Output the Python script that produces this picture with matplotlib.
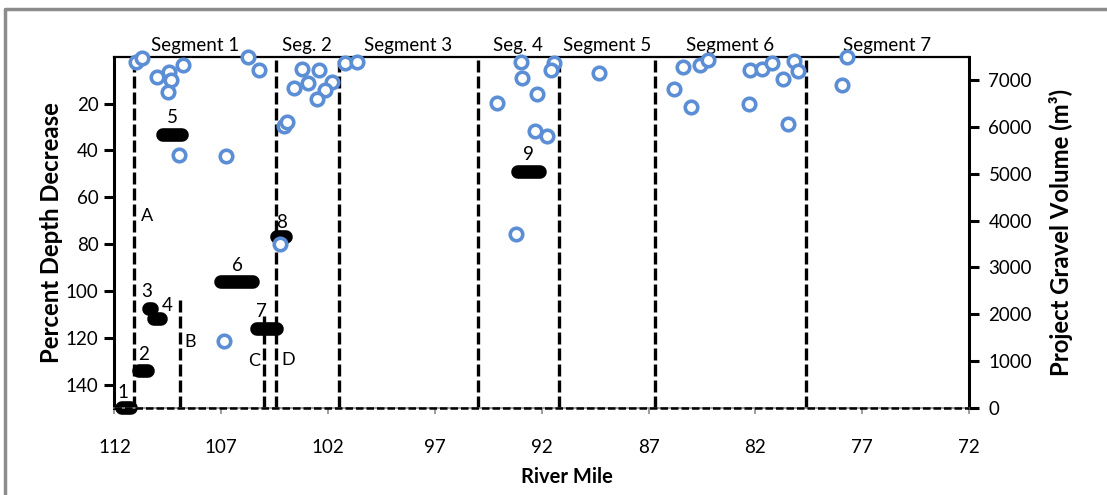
import matplotlib
matplotlib.use('Agg')
import matplotlib.pyplot as plt
from matplotlib.lines import Line2D

plt.rcParams['font.family'] = ['Lato', 'DejaVu Sans']

# percent depth decrease at sampled sites (left axis)
site_mile = [111.0, 110.69, 109.99, 109.45, 109.34, 109.50, 108.79, 105.76, 105.24,
             108.98, 106.80, 106.85, 104.26, 104.05, 103.93,
             103.21, 102.44, 103.61, 102.93, 101.81, 102.13, 102.51,
             101.19, 100.64,
             92.97, 92.93, 91.42, 91.56, 92.23, 94.10, 92.31, 91.77, 93.20,
             89.31,
             85.38, 84.60, 84.21, 85.80, 85.02, 82.27, 81.67, 81.22, 80.71,
             80.20, 79.99, 82.30, 80.48,
             77.73, 77.92]
site_depth = [2.3, 0.5, 8.6, 6.5, 10.1, 15.0, 3.7, 0.3, 5.8,
              41.8, 42.3, 121.6, 80.1, 29.5, 27.8,
              5.1, 5.8, 13.3, 11.2, 10.8, 14.4, 17.9,
              2.6, 2.3,
              2.3, 9.1, 2.7, 5.5, 16.1, 19.6, 31.8, 33.8, 75.8,
              6.9,
              4.4, 3.4, 1.6, 13.6, 21.4, 5.5, 5.1, 2.6, 9.4,
              1.8, 6.3, 20.0, 28.8,
              0.2, 12.2]

# gravel projects (right axis)
proj_id = ['1', '2', '3', '4', '5', '6', '7', '8', '9']
proj_start = [111.63, 110.83, 110.40, 110.13, 109.71, 107.00, 105.32, 104.38, 93.12]
proj_end = [111.22, 110.43, 110.26, 109.82, 108.84, 105.52, 104.40, 103.97, 92.10]
proj_volume = [10, 780, 2115, 1900, 5830, 2700, 1690, 3650, 5040]

# segment boundaries and names
seg_bounds = [112, 104.45, 101.5, 95.0, 91.2, 86.7, 79.65, 72]
seg_names = ['Segment 1', 'Seg. 2', 'Segment 3', 'Seg. 4', 'Segment 5', 'Segment 6', 'Segment 7']

# extra reference lines
ref_names = ['A', 'B', 'C']
ref_mile = [111.1, 108.95, 104.98]
ref_top = [7500, 2350, 1970]

blue = '#5B8ED5'

fig = plt.figure(figsize=(11.07, 4.95), dpi=100)
ax = fig.add_axes([0.1034, 0.1758, 0.7719, 0.7097])
ax2 = ax.twinx()
ax.set_zorder(ax2.get_zorder() + 1)
ax.patch.set_visible(False)

ax.set_xlim(112, 72)
ax.set_ylim(150, 0)
ax2.set_ylim(0, 7500)
ax.set_xticks(range(112, 71, -5))
ax.set_yticks(range(20, 141, 20))
ax2.set_yticks(range(0, 7001, 1000))

# segment boundary lines
for b in seg_bounds[1:-1]:
    ax2.plot([b, b], [0, 7500], color='black', lw=2.4, dashes=(3.6, 1.2), zorder=2)
for name, m, top in zip(ref_names, ref_mile, ref_top):
    ax2.plot([m, m], [0, top], color='black', lw=2.4, dashes=(3.6, 1.2), zorder=2)

ax2.text(110.75, 4100, 'A', fontsize=13, va='center', ha='left')
ax2.text(108.75, 1410, 'B', fontsize=13, va='center', ha='left')
ax2.text(105.2, 1000, 'C', fontsize=13, va='center', ha='right')
ax2.text(104.2, 1020, 'D', fontsize=13, va='center', ha='left')

# bottom dashed line (on top of the grey spine)
ax.plot([112, 72], [150, 150], color='black', lw=1.8, dashes=(3, 1.2), zorder=3, clip_on=False)

# projects
label_off = [(-4, 15), (0, 17), (-3, 17), (9, 13), (0, 17), (0, 16), (-6, 17), (0, 15), (0, 17)]
for pid, s, e, v, off in zip(proj_id, proj_start, proj_end, proj_volume, label_off):
    ax2.plot([s, e], [v, v], color='black', lw=9.8, solid_capstyle='round', clip_on=False, zorder=3)
    ax2.annotate(pid, xy=((s + e) / 2, v), xytext=off, textcoords='offset pixels',
                 ha='center', va='center', fontsize=13.5)

# sites
ax.plot(site_mile, site_depth, 'o', ms=9, mfc='white', mec=blue, mew=2.6,
        clip_on=False, zorder=4)

# segment names
for i, name in enumerate(seg_names):
    mid = (seg_bounds[i] + seg_bounds[i + 1]) / 2
    ax.annotate(name, xy=(mid, 1), xycoords=('data', 'axes fraction'), xytext=(0, 3),
                textcoords='offset pixels', ha='center', va='bottom', fontsize=13.5)

# spines
for sp in ['left', 'top']:
    ax.spines[sp].set_color('black')
ax.spines['left'].set_linewidth(2.2)
ax.spines['top'].set_linewidth(1.6)
ax.spines['right'].set_visible(False)
ax.spines['bottom'].set_color('#8c8c8c')
ax.spines['bottom'].set_linewidth(1.2)
for sp in ['left', 'top', 'bottom']:
    ax2.spines[sp].set_visible(False)
ax2.spines['right'].set_linewidth(2.2)
ax2.spines['right'].set_color('black')

ax.tick_params(axis='y', direction='out', length=7, width=2.2, labelsize=13.5, pad=4.5)
ax.tick_params(axis='x', direction='out', length=4, width=1.2, color='#8c8c8c',
               labelsize=13.5, pad=18)
ax2.tick_params(axis='y', direction='out', length=7, width=2.2, labelsize=13.5, pad=7)

ax.set_ylabel('Percent Depth Decrease', fontsize=17.2, fontweight='bold', labelpad=2)
ax2.set_ylabel('Project Gravel Volume (m³)', fontsize=17.2, fontweight='bold', labelpad=12)
ax.set_xlabel('River Mile', fontsize=14.5, fontweight='bold')
ax.xaxis.set_label_coords(0.5296, -0.168)

# outer grey frame
fig.add_artist(Line2D([5 / 1107, 5 / 1107, 1.0], [0.0, 1 - 9 / 495, 1 - 9 / 495],
                      transform=fig.transFigure, color='#8c8c8c', lw=2.5))

fig.savefig('out.png', dpi=100)
